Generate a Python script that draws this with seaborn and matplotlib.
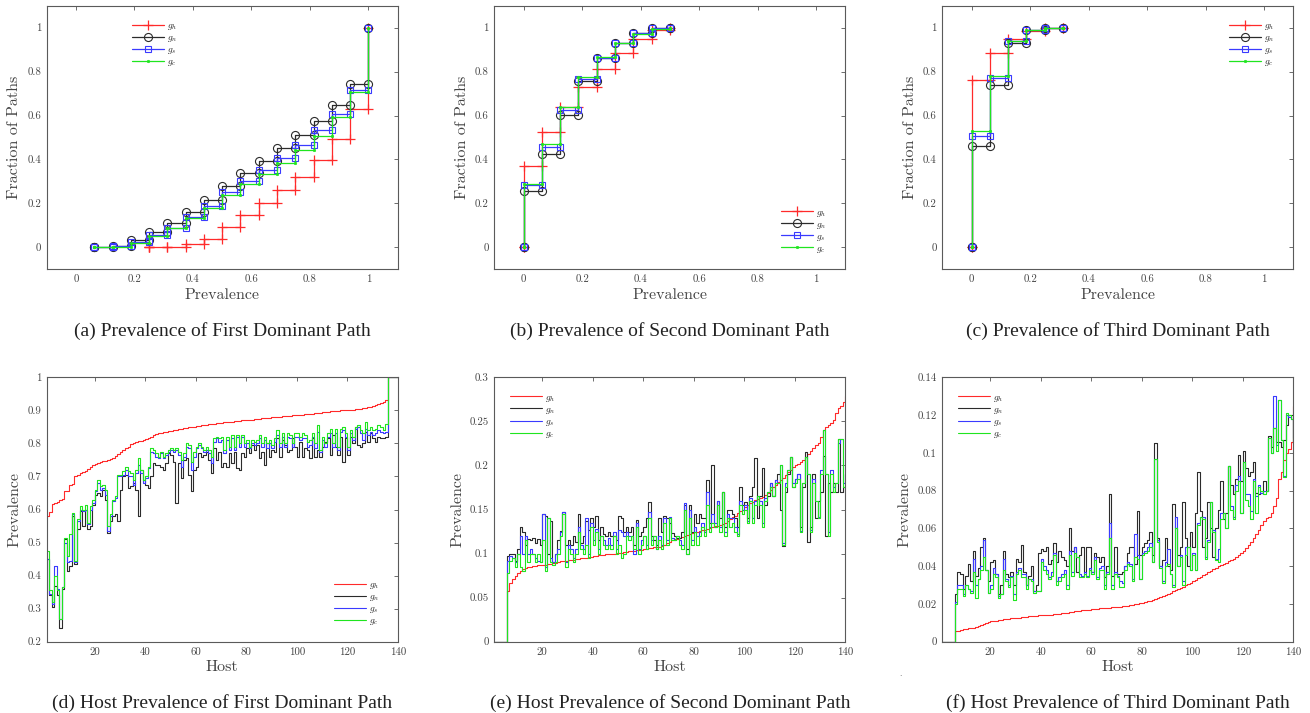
import numpy as np
import matplotlib
matplotlib.use("Agg")
import matplotlib.pyplot as plt
import seaborn as sns

# ---------------- data ----------------
# top row: empirical CDF of path prevalence (first x repeated, F starts at 0)
A_PREV = [0.0625, 0.0625, 0.125, 0.1875, 0.25, 0.3125, 0.375, 0.4375, 0.5,
          0.5625, 0.625, 0.6875, 0.75, 0.8125, 0.875, 0.9375, 1.0]
A_PREV_H = [0.25, 0.25, 0.3125, 0.375, 0.4375, 0.5, 0.5625, 0.625, 0.6875,
            0.75, 0.8125, 0.875, 0.9375, 1.0]
A_GH = [0, 0.001, 0.003, 0.013, 0.038, 0.091, 0.147, 0.2, 0.259, 0.318,
        0.397, 0.492, 0.632, 1.0]
A_GN = [0, 0.0, 0.008, 0.033, 0.072, 0.113, 0.162, 0.215, 0.28, 0.34,
        0.393, 0.453, 0.51, 0.573, 0.647, 0.742, 1.0]
A_GS = [0, 0.0, 0.004, 0.024, 0.054, 0.09, 0.137, 0.186, 0.25, 0.303,
        0.35, 0.408, 0.467, 0.535, 0.608, 0.714, 1.0]
A_GC = [0, 0.0, 0.003, 0.02, 0.05, 0.088, 0.133, 0.18, 0.238, 0.29,
        0.336, 0.385, 0.442, 0.509, 0.592, 0.707, 1.0]

B_PREV = [0, 0, 0.0625, 0.125, 0.1875, 0.25, 0.3125, 0.375, 0.4375, 0.5]
B_GH = [0, 0.368, 0.523, 0.64, 0.729, 0.812, 0.886, 0.947, 0.99, 1.0]
B_GN = [0, 0.255, 0.423, 0.602, 0.755, 0.861, 0.932, 0.974, 0.997, 1.0]
B_GS = [0, 0.285, 0.458, 0.626, 0.765, 0.861, 0.932, 0.974, 0.997, 1.0]
B_GC = [0, 0.288, 0.471, 0.639, 0.776, 0.865, 0.932, 0.973, 0.994, 1.0]

C_PREV = [0, 0, 0.0625, 0.125, 0.1875, 0.25, 0.3125]
C_GH = [0, 0.761, 0.883, 0.948, 0.986, 0.998, 1.0]
C_GN = [0, 0.462, 0.741, 0.929, 0.989, 0.998, 1.0]
C_GS = [0, 0.508, 0.773, 0.941, 0.991, 0.999, 1.0]
C_GC = [0, 0.53, 0.779, 0.938, 0.989, 0.998, 1.0]

# bottom row: prevalence per host (hosts 1..140), stored in thousandths
D_GH = [580, 592, 618, 620, 623, 628, 632, 655, 657, 675,
        677, 700, 705, 710, 714, 718, 724, 730, 734, 738,
        741, 744, 746, 748, 750, 753, 757, 763, 769, 775,
        781, 786, 790, 797, 800, 803, 806, 808, 810, 812,
        815, 819, 825, 828, 830, 832, 834, 836, 837, 839,
        840, 842, 843, 845, 846, 847, 849, 850, 851, 852,
        853, 855, 856, 857, 858, 859, 860, 861, 862, 863,
        864, 865, 866, 866, 867, 868, 869, 870, 871, 871,
        872, 872, 873, 874, 875, 876, 876, 877, 878, 879,
        880, 881, 881, 882, 883, 883, 884, 885, 886, 886,
        887, 887, 888, 889, 890, 890, 891, 892, 893, 894,
        895, 896, 897, 898, 898, 899, 900, 900, 901, 901,
        902, 902, 903, 904, 905, 906, 907, 909, 911, 914,
        917, 919, 921, 924, 932, 1000, 1000, 1000, 1000, 1000]
D_GN = [450, 340, 305, 370, 340, 240, 360, 510, 415, 430,
        580, 435, 540, 595, 550, 600, 540, 550, 615, 645,
        650, 640, 660, 630, 530, 565, 580, 585, 565, 660,
        700, 705, 665, 670, 680, 660, 580, 720, 690, 675,
        665, 700, 740, 735, 735, 730, 720, 740, 770, 765,
        745, 620, 740, 695, 750, 755, 705, 655, 720, 730,
        770, 760, 765, 775, 750, 710, 785, 750, 775, 730,
        740, 730, 770, 740, 775, 725, 720, 770, 760, 785,
        770, 795, 780, 795, 755, 775, 735, 800, 760, 780,
        775, 815, 760, 810, 795, 775, 780, 815, 790, 760,
        805, 760, 785, 780, 755, 815, 760, 780, 760, 790,
        805, 815, 765, 825, 790, 765, 820, 745, 815, 765,
        820, 800, 850, 795, 790, 800, 835, 805, 830, 815,
        805, 820, 815, 815, 820, 1000, 1000, 1000, 1000, 1000]
D_GS = [450, 345, 315, 430, 360, 270, 365, 500, 440, 445,
        585, 440, 565, 600, 595, 600, 555, 600, 620, 655,
        680, 660, 665, 645, 535, 580, 625, 635, 700, 700,
        705, 720, 700, 700, 675, 710, 735, 710, 680, 695,
        725, 775, 770, 760, 755, 770, 755, 765, 775, 780,
        775, 780, 765, 730, 760, 790, 785, 720, 760, 785,
        795, 785, 775, 780, 770, 740, 805, 815, 805, 810,
        770, 810, 780, 815, 780, 820, 790, 820, 790, 800,
        785, 800, 795, 800, 815, 790, 810, 785, 800, 785,
        805, 825, 790, 820, 790, 820, 815, 790, 820, 820,
        810, 815, 815, 790, 795, 820, 785, 835, 775, 810,
        790, 820, 830, 790, 830, 780, 835, 840, 820, 780,
        830, 810, 845, 850, 830, 810, 845, 825, 835, 825,
        830, 840, 835, 830, 835, 1000, 1000, 1000, 1000, 1000]
D_GC = [475, 355, 320, 400, 355, 270, 365, 515, 460, 525,
        590, 445, 570, 610, 600, 615, 560, 610, 630, 660,
        690, 670, 675, 660, 550, 585, 630, 640, 705, 705,
        715, 730, 715, 710, 690, 720, 755, 720, 690, 700,
        730, 785, 780, 770, 760, 775, 760, 770, 780, 785,
        780, 785, 775, 750, 770, 800, 795, 745, 775, 790,
        800, 790, 780, 790, 780, 760, 815, 820, 815, 820,
        780, 820, 790, 825, 790, 825, 800, 825, 800, 810,
        790, 810, 805, 810, 825, 800, 820, 800, 810, 795,
        815, 840, 800, 830, 800, 830, 825, 800, 830, 830,
        820, 830, 825, 805, 810, 830, 800, 855, 780, 820,
        800, 830, 845, 800, 845, 790, 845, 850, 830, 790,
        840, 820, 850, 855, 840, 830, 865, 840, 850, 840,
        845, 855, 850, 840, 860, 1000, 1000, 1000, 1000, 1000]

E_GH = [0, 0, 0, 0, 0, 58, 67, 71, 74, 78,
        80, 82, 84, 85, 85, 86, 86, 87, 87, 87,
        87, 88, 88, 89, 89, 90, 91, 92, 92, 93,
        93, 93, 94, 94, 95, 95, 95, 96, 96, 97,
        97, 98, 98, 98, 99, 99, 100, 100, 101, 101,
        101, 102, 102, 103, 103, 103, 104, 104, 104, 105,
        105, 106, 106, 107, 107, 108, 109, 110, 112, 113,
        115, 116, 117, 118, 119, 120, 121, 122, 123, 124,
        125, 126, 127, 127, 128, 129, 130, 131, 131, 132,
        133, 135, 137, 139, 141, 143, 146, 148, 150, 153,
        155, 157, 159, 161, 162, 163, 164, 166, 169, 172,
        175, 178, 181, 184, 186, 189, 192, 195, 198, 200,
        202, 204, 206, 210, 213, 216, 220, 223, 226, 232,
        240, 244, 246, 248, 252, 259, 265, 268, 272, 279]
E_GN = [0, 0, 0, 0, 0, 97, 100, 100, 92, 105,
        130, 125, 110, 117, 115, 118, 112, 117, 110, 145,
        143, 100, 137, 90, 100, 115, 126, 147, 110, 115,
        110, 120, 113, 145, 112, 120, 137, 127, 140, 130,
        143, 115, 130, 122, 120, 125, 120, 120, 115, 143,
        140, 125, 130, 125, 130, 110, 138, 120, 125, 130,
        140, 158, 120, 115, 110, 140, 125, 143, 140, 135,
        123, 120, 118, 118, 125, 155, 105, 155, 125, 145,
        135, 145, 140, 140, 183, 135, 200, 130, 160, 140,
        170, 130, 150, 150, 145, 140, 130, 175, 155, 158,
        140, 165, 175, 209, 140, 165, 197, 155, 165, 180,
        165, 183, 190, 150, 109, 170, 190, 210, 175, 185,
        190, 130, 175, 215, 113, 130, 190, 140, 160, 170,
        211, 120, 180, 170, 180, 170, 230, 170, 175, 170]
E_GS = [0, 0, 0, 0, 0, 92, 97, 95, 90, 100,
        120, 100, 120, 100, 105, 100, 95, 92, 90, 145,
        85, 140, 95, 90, 100, 105, 125, 147, 90, 110,
        105, 95, 105, 130, 110, 105, 140, 100, 135, 115,
        128, 105, 120, 115, 110, 118, 110, 125, 105, 127,
        125, 120, 125, 120, 120, 100, 135, 105, 115, 120,
        110, 147, 115, 120, 105, 120, 110, 140, 115, 142,
        118, 115, 120, 115, 110, 157, 100, 150, 115, 130,
        120, 125, 135, 125, 170, 130, 145, 135, 160, 130,
        170, 125, 145, 140, 140, 130, 122, 160, 150, 155,
        137, 163, 140, 160, 165, 160, 135, 163, 170, 180,
        165, 183, 180, 200, 112, 180, 195, 210, 180, 185,
        190, 126, 180, 210, 190, 127, 185, 160, 142, 195,
        240, 190, 125, 195, 175, 180, 225, 230, 180, 190]
E_GC = [0, 0, 0, 0, 0, 78, 92, 95, 85, 100,
        85, 80, 115, 90, 100, 100, 90, 100, 90, 115,
        80, 140, 90, 87, 90, 100, 120, 145, 85, 105,
        100, 90, 100, 125, 105, 100, 110, 95, 130, 110,
        125, 100, 120, 110, 105, 110, 105, 120, 100, 110,
        95, 100, 120, 115, 120, 105, 130, 100, 110, 120,
        105, 140, 110, 120, 105, 115, 105, 135, 110, 140,
        115, 115, 120, 110, 105, 150, 100, 140, 110, 125,
        110, 120, 130, 120, 155, 125, 135, 130, 155, 125,
        170, 120, 140, 130, 135, 125, 120, 155, 145, 150,
        135, 160, 135, 155, 165, 155, 130, 160, 170, 175,
        165, 180, 180, 200, 110, 175, 195, 210, 175, 180,
        185, 125, 180, 210, 190, 125, 180, 160, 140, 190,
        240, 190, 120, 190, 170, 180, 230, 230, 175, 190]

# third dominant path, stored in ten-thousandths
F_GH = [0, 0, 0, 0, 0, 55, 58, 62, 65, 68,
        70, 72, 74, 78, 82, 88, 94, 100, 105, 108,
        110, 112, 114, 116, 118, 120, 121, 123, 124, 126,
        127, 129, 130, 132, 134, 135, 137, 138, 139, 140,
        141, 142, 143, 144, 145, 146, 148, 150, 152, 154,
        156, 158, 160, 162, 164, 166, 168, 169, 170, 172,
        173, 174, 176, 177, 178, 180, 181, 182, 184, 185,
        186, 187, 188, 190, 192, 194, 197, 200, 203, 206,
        210, 214, 218, 222, 228, 232, 237, 242, 248, 254,
        260, 266, 272, 278, 285, 292, 299, 306, 313, 320,
        328, 336, 344, 352, 360, 368, 376, 384, 392, 400,
        406, 412, 418, 425, 432, 440, 450, 460, 470, 480,
        495, 510, 530, 550, 570, 590, 620, 640, 655, 660,
        680, 720, 760, 860, 900, 960, 1000, 1020, 1060, 1250]
F_GN = [0, 0, 0, 0, 0, 250, 370, 360, 280, 350,
        410, 320, 480, 350, 390, 500, 550, 380, 320, 420,
        430, 360, 250, 300, 480, 360, 340, 370, 300, 440,
        420, 510, 370, 300, 350, 400, 270, 300, 470, 490,
        480, 500, 410, 430, 520, 420, 480, 450, 430, 400,
        600, 480, 500, 370, 460, 500, 370, 500, 500, 370,
        470, 450, 420, 450, 340, 400, 780, 350, 500, 360,
        360, 370, 400, 470, 500, 500, 410, 690, 460, 500,
        520, 540, 580, 460, 1050, 550, 400, 430, 550, 400,
        380, 730, 600, 460, 500, 740, 550, 400, 580, 500,
        680, 900, 690, 500, 550, 740, 600, 450, 600, 700,
        850, 650, 680, 930, 830, 780, 860, 990, 850, 1010,
        920, 880, 900, 950, 790, 780, 790, 850, 800, 1090,
        1030, 1130, 1060, 1060, 1030, 1070, 1150, 1200, 1200, 1050]
F_GS = [0, 0, 0, 0, 0, 210, 300, 300, 250, 300,
        280, 270, 440, 300, 330, 400, 540, 380, 260, 300,
        390, 360, 240, 250, 440, 330, 300, 350, 250, 370,
        390, 360, 360, 300, 330, 330, 270, 270, 270, 440,
        400, 380, 340, 370, 470, 320, 340, 360, 380, 300,
        480, 370, 500, 450, 360, 350, 370, 350, 390, 370,
        450, 340, 390, 400, 300, 370, 630, 300, 370, 350,
        320, 310, 400, 420, 410, 330, 570, 460, 330, 470,
        480, 500, 520, 420, 970, 540, 400, 320, 420, 490,
        360, 300, 660, 400, 460, 320, 500, 500, 380, 470,
        380, 630, 660, 660, 450, 540, 740, 590, 440, 490,
        680, 680, 600, 930, 720, 660, 830, 880, 680, 950,
        780, 780, 690, 860, 770, 830, 790, 800, 800, 1080,
        1000, 1300, 1040, 1280, 1070, 880, 1200, 1190, 1180, 1080]
F_GC = [0, 0, 0, 0, 0, 200, 280, 280, 240, 300,
        280, 260, 370, 230, 330, 380, 450, 380, 260, 280,
        360, 340, 230, 250, 380, 320, 290, 340, 220, 360,
        380, 340, 340, 280, 330, 320, 260, 270, 270, 420,
        380, 360, 330, 350, 460, 300, 320, 340, 360, 280,
        460, 350, 470, 450, 340, 340, 360, 340, 380, 360,
        430, 330, 380, 380, 280, 360, 550, 280, 360, 340,
        290, 290, 380, 410, 400, 320, 450, 440, 330, 460,
        470, 480, 500, 420, 970, 530, 390, 310, 400, 410,
        360, 290, 600, 400, 450, 300, 460, 500, 380, 460,
        380, 620, 660, 650, 440, 530, 740, 580, 430, 420,
        650, 680, 600, 930, 700, 650, 800, 850, 680, 950,
        750, 720, 650, 850, 680, 820, 800, 780, 800, 1080,
        1000, 1130, 1010, 1280, 1070, 870, 1210, 1200, 1180, 1050]

LABELS = [r"$g_h$", r"$g_n$", r"$g_s$", r"$g_c$"]
COLORS = ["#ff2a2a", "#2b2b2b", "#3a3aff", "#1fe51f"]

CAPTIONS = ["(a) Prevalence of First Dominant Path",
            "(b) Prevalence of Second Dominant Path",
            "(c) Prevalence of Third Dominant Path",
            "(d) Host Prevalence of First Dominant Path",
            "(e) Host Prevalence of Second Dominant Path",
            "(f) Host Prevalence of Third Dominant Path"]

# ---------------- style ----------------
sns.set_theme(style="white")
plt.rcParams["font.family"] = ["cmr10", "DejaVu Serif"]
plt.rcParams["mathtext.fontset"] = "cm"
plt.rcParams["axes.formatter.use_mathtext"] = True
plt.rcParams["axes.edgecolor"] = "#5a5a5a"
plt.rcParams["axes.linewidth"] = 0.8


def stairs(x, y):
    # vertices of a MATLAB-like stairs plot
    x = np.asarray(x, dtype=float)
    y = np.asarray(y, dtype=float)
    return np.repeat(x, 2)[1:], np.repeat(y, 2)[:-1]


def style_axes(ax, xlim, ylim, xticks, xlabels, yticks, ylabels, xlab, ylab, ylab_x):
    ax.set_xlim(*xlim)
    ax.set_ylim(*ylim)
    ax.set_xticks(xticks, xlabels)
    ax.set_yticks(yticks, ylabels)
    ax.tick_params(direction="in", top=True, right=True, length=3, width=0.6,
                   color="#555555", labelcolor="#444444", labelsize=7.8, pad=4)
    ax.set_xlabel(xlab, fontsize=11.5, color="#444444")
    ax.set_ylabel(ylab, fontsize=11.5, color="#444444")
    ax.xaxis.set_label_coords(0.5, -0.072)
    ax.yaxis.set_label_coords(ylab_x, 0.5)
    for s in ax.spines.values():
        s.set_visible(True)


fig = plt.figure(figsize=(13.1, 7.13), dpi=100)
lefts = [46.7 / 1310, 494.3 / 1310, 942.3 / 1310]
width = 351 / 1310
top_axes = [fig.add_axes([l, 1 - 269.3 / 713, width, 263.6 / 713]) for l in lefts]
bot_axes = [fig.add_axes([l, 1 - 641.7 / 713, width, 264.4 / 713]) for l in lefts]

# ---- top row: CDF stairs with markers ----
marker_kw = [dict(marker="+", markersize=7, markeredgewidth=0.9),
             dict(marker="o", markersize=5.8, markerfacecolor="none", markeredgewidth=0.8),
             dict(marker="s", markersize=5, markerfacecolor="none", markeredgewidth=0.8),
             dict(marker=".", markersize=3.5, markeredgewidth=0.5)]

top_data = [
    [(A_PREV_H, A_GH), (A_PREV, A_GN), (A_PREV, A_GS), (A_PREV, A_GC)],
    [(B_PREV, B_GH), (B_PREV, B_GN), (B_PREV, B_GS), (B_PREV, B_GC)],
    [(C_PREV, C_GH), (C_PREV, C_GN), (C_PREV, C_GS), (C_PREV, C_GC)],
]
top_legend = [dict(loc="upper left", bbox_to_anchor=(0.225, 0.965)),
              dict(loc="lower right", bbox_to_anchor=(0.965, 0.03)),
              dict(loc="upper right", bbox_to_anchor=(0.965, 0.965))]
ticks01 = [0, 0.2, 0.4, 0.6, 0.8, 1]
tlab01 = ["0", "0.2", "0.4", "0.6", "0.8", "1"]

for ax, series, leg in zip(top_axes, top_data, top_legend):
    for (px, fy), lab, col, mk in zip(series, LABELS, COLORS, marker_kw):
        xv, yv = stairs(px, fy)
        sns.lineplot(x=xv, y=yv, sort=False, estimator=None, color=col, lw=0.9,
                     markeredgecolor=col, label=lab, ax=ax, **mk)
    style_axes(ax, (-0.1, 1.1), (-0.1, 1.1), ticks01, tlab01, ticks01, tlab01,
               "Prevalence", "Fraction of Paths", -0.072)
    ax.legend(frameon=False, fontsize=6.8, handlelength=3.4, labelspacing=0.15,
              handletextpad=0.3, borderpad=0.2, **leg)

# ---- bottom row: per-host prevalence as steps ----
hosts = np.arange(1, 141)
bot_data = [
    ([D_GH, D_GN, D_GS, D_GC], 1000.0, (0.2, 1.0),
     [0.2, 0.3, 0.4, 0.5, 0.6, 0.7, 0.8, 0.9, 1.0],
     ["0.2", "0.3", "0.4", "0.5", "0.6", "0.7", "0.8", "0.9", "1"],
     dict(loc="lower right", bbox_to_anchor=(0.965, 0.03)), -0.072),
    ([E_GH, E_GN, E_GS, E_GC], 1000.0, (0, 0.3),
     [0, 0.05, 0.1, 0.15, 0.2, 0.25, 0.3],
     ["0", "0.05", "0.1", "0.15", "0.2", "0.25", "0.3"],
     dict(loc="upper left", bbox_to_anchor=(0.025, 0.965)), -0.086),
    ([F_GH, F_GN, F_GS, F_GC], 10000.0, (0, 0.14),
     [0, 0.02, 0.04, 0.06, 0.08, 0.1, 0.12, 0.14],
     ["0", "0.02", "0.04", "0.06", "0.08", "0.1", "0.12", "0.14"],
     dict(loc="upper left", bbox_to_anchor=(0.025, 0.965)), -0.088),
]
xt = [20, 40, 60, 80, 100, 120, 140]

for ax, (series, scale, ylim, yt, ytl, leg, ylx) in zip(bot_axes, bot_data):
    for vals, lab, col in zip(series, LABELS, COLORS):
        sns.lineplot(x=hosts, y=np.asarray(vals) / scale, drawstyle="steps-post",
                     estimator=None, sort=False, color=col, lw=0.8, label=lab, ax=ax)
    style_axes(ax, (1, 140), ylim, xt, [str(t) for t in xt], yt, ytl,
               "Host", "Prevalence", ylx)
    ax.legend(frameon=False, fontsize=6.8, handlelength=3.4, labelspacing=0.15,
              handletextpad=0.3, borderpad=0.2, **leg)

# ---- captions ----
for i, cap in enumerate(CAPTIONS):
    ax = (top_axes + bot_axes)[i]
    pos = ax.get_position()
    y = 1 - 331 / 713 if i < 3 else 1 - 703 / 713
    fig.text(pos.x0 + pos.width / 2, y, cap, ha="center", va="center",
             fontsize=14, family=["Liberation Serif", "DejaVu Serif"], color="#222222")

fig.text(899 / 1310, 1 - 676 / 713, ".", fontsize=6, color="#555555")

fig.savefig("out.png", dpi=100)
